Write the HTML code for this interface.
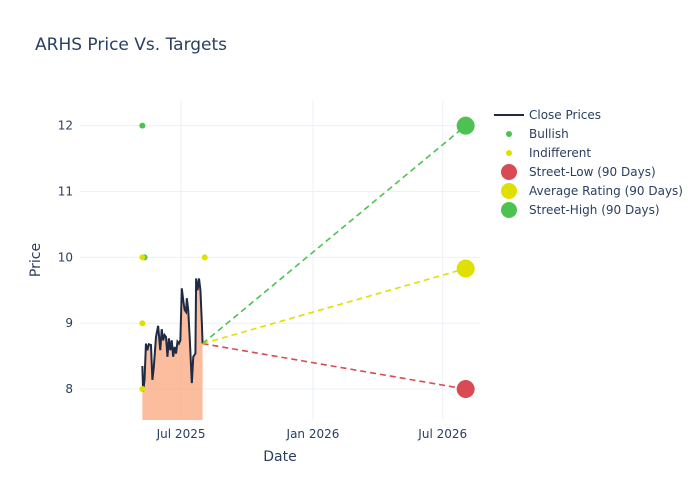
<!DOCTYPE html>
<html><head><meta charset="utf-8"><style>
body{margin:0;background:#fff}
svg{display:block;font-family:"DejaVu Sans","Liberation Sans",sans-serif}
</style></head><body>
<svg id="c" width="700" height="500" xmlns="http://www.w3.org/2000/svg">
<rect width="700" height="500" fill="#fff"/>
<text x="35" y="50" font-size="17" fill="#2a3f5f">ARHS Price Vs. Targets</text>
<g id="grid"></g><g id="marks"></g><g id="axes"></g>
<text x="280" y="461" font-size="14" fill="#2a3f5f" text-anchor="middle">Date</text>
<text transform="translate(40,260) rotate(-90)" font-size="14" fill="#2a3f5f" text-anchor="middle">Price</text>
<g id="legend"></g>
</svg>
<script>
const closeDates=["2025-05-08","2025-05-09","2025-05-11","2025-05-13","2025-05-15","2025-05-17","2025-05-20","2025-05-22","2025-05-24","2025-05-27","2025-05-30","2025-06-02","2025-06-04","2025-06-06","2025-06-08","2025-06-10","2025-06-12","2025-06-14","2025-06-16","2025-06-18","2025-06-20","2025-06-22","2025-06-24","2025-06-26","2025-06-28","2025-06-30","2025-07-02","2025-07-04","2025-07-06","2025-07-08","2025-07-09","2025-07-11","2025-07-13","2025-07-16","2025-07-18","2025-07-21","2025-07-22","2025-07-24","2025-07-26","2025-07-28","2025-07-30","2025-07-31"];
const closeValues=[8.35,7.96,8.14,8.69,8.59,8.68,8.67,8.14,8.34,8.79,8.96,8.59,8.91,8.74,8.82,8.79,8.49,8.77,8.59,8.74,8.49,8.64,8.54,8.72,8.69,8.74,9.53,9.35,9.20,9.17,9.38,9.20,8.79,8.09,8.49,8.54,9.68,9.50,9.68,9.50,9.00,8.69];
const bullishDates=["2025-05-08","2025-05-11"];
const bullishValues=[12,10];
const indiffDates=["2025-05-08","2025-05-08","2025-05-08","2025-08-03"];
const indiffValues=[10,9,8,10];
const targetDate="2026-08-02";
const targetNames=["Street-Low (90 Days)","Average Rating (90 Days)","Street-High (90 Days)"];
const targetValues=[8,9.83,12];
const targetColors=["#d84b52","#e0e000","#4dc252"];
const yTicks=[8,9,10,11,12];
const xTickDates=["2025-07-01","2026-01-01","2026-07-01"];
const xTickLabels=["Jul 2025","Jan 2026","Jul 2026"];

const NS="http://www.w3.org/2000/svg";
const L=80,R=480,T=100,B=420;
const d0=Date.parse("2025-02-10"),d1=Date.parse("2026-08-22");
const y0=7.53,y1=12.39;
const X=d=>L+(Date.parse(d)-d0)/(d1-d0)*(R-L);
const Y=v=>B-(v-y0)/(y1-y0)*(B-T);
function el(tag,attrs,parent,txt){const e=document.createElementNS(NS,tag);for(const k in attrs)e.setAttribute(k,attrs[k]);if(txt!=null)e.textContent=txt;parent.appendChild(e);return e;}
const grid=document.getElementById('grid'),marks=document.getElementById('marks'),axes=document.getElementById('axes'),leg=document.getElementById('legend');
yTicks.forEach(v=>{
  const g=el('line',{x1:L,x2:R,y1:Y(v),y2:Y(v),stroke:'#ebf0f8'},grid);
  
  const t=el('text',{x:L-7,y:Y(v)+4,'font-size':12,fill:'#2a3f5f','text-anchor':'end'},axes,String(v));
  
});
xTickDates.forEach((d,i)=>{
  const g=el('line',{x1:X(d),x2:X(d),y1:T,y2:B,stroke:'#ebf0f8'},grid);
  
  const t=el('text',{x:X(d),y:B+18,'font-size':12,fill:'#2a3f5f','text-anchor':'middle'},axes,xTickLabels[i]);
  
});
const pts=closeDates.map((d,i)=>[X(d),Y(closeValues[i])]);
const area=el('path',{d:'M'+pts[0][0]+','+B+' L'+pts.map(p=>p.join(',')).join(' L')+' L'+pts[pts.length-1][0]+','+B+' Z',fill:'#f9a77c',opacity:0.75},marks);

const line=el('polyline',{points:pts.map(p=>p.join(',')).join(' '),fill:'none',stroke:'#1f2a44','stroke-width':2},marks);

const last=pts[pts.length-1];
targetValues.forEach((v,i)=>{
  const l=el('line',{x1:last[0],y1:last[1],x2:X(targetDate),y2:Y(v),stroke:targetColors[i],'stroke-width':1.6,'stroke-dasharray':'6,4'},marks);
  
});
bullishDates.forEach((d,i)=>{
  const c=el('circle',{cx:X(d),cy:Y(bullishValues[i]),r:3,fill:'#4dc252'},marks);
  
});
indiffDates.forEach((d,i)=>{
  const c=el('circle',{cx:X(d),cy:Y(indiffValues[i]),r:3,fill:'#e0e000'},marks);
  
});
targetValues.forEach((v,i)=>{
  const c=el('circle',{cx:X(targetDate),cy:Y(v),r:9,fill:targetColors[i]},marks);
  
});
const items=[["Close Prices","line","#1f2a44"],["Bullish","s","#4dc252"],["Indifferent","s","#e0e000"],[targetNames[0],"b",targetColors[0]],[targetNames[1],"b",targetColors[1]],[targetNames[2],"b",targetColors[2]]];
items.forEach((it,i)=>{
  const y=115+i*19;
  const g=el('g',{},leg);
  
  
  if(it[1]=="line")el('line',{x1:494,x2:524,y1:y,y2:y,stroke:it[2],'stroke-width':2},g);
  else el('circle',{cx:509,cy:y,r:it[1]=="s"?3:8,fill:it[2]},g);
  el('text',{x:529,y:y+4,'font-size':12,fill:'#2a3f5f'},g,it[0]);
});
</script>
</body></html>
